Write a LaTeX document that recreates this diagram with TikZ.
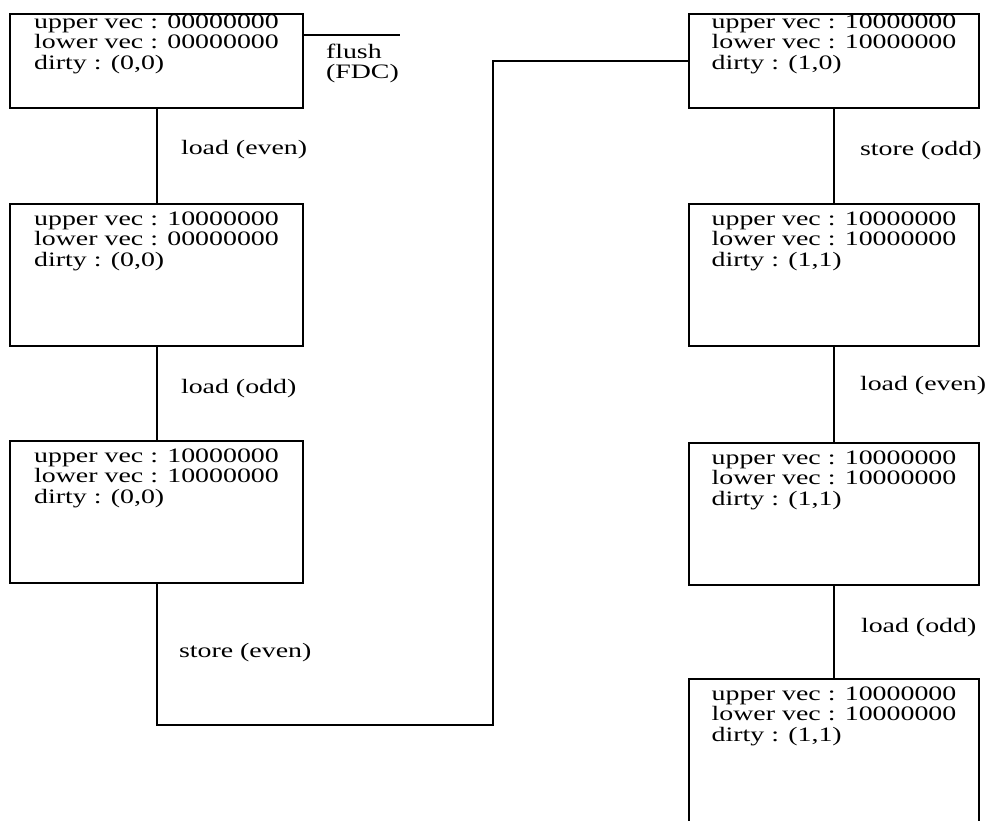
\documentclass[tikz,border=0pt]{standalone}
\usepackage{fontspec}
\setmainfont{Liberation Serif}
\usepackage{graphicx}
\usetikzlibrary{positioning}
\newcommand\wide[1]{\scalebox{1.36}[1]{#1}}
\newcommand\vecs[3]{\wide{\vtop{\baselineskip=20pt\lineskiplimit=-100pt
  \hbox{upper vec : #1}\hbox{lower vec : #2}\vskip1pt\hbox{dirty : #3}}}}
\tikzset {
  every node/.style={font=\fontsize{20.5}{20}\selectfont},
  state/.style={draw, line width=2pt, anchor=north west, inner sep=0pt},
  short/.style={state, minimum width=293pt, text height=14pt, text depth=80pt},
  tall/.style={state, minimum width=293pt, text height=21pt, text depth=121pt},
  lbl/.style={anchor=base west, inner sep=0pt},
}

\begin{document}
\begin{tikzpicture}[x=1pt,y=-1pt,line width=2pt]
  \clip (0,0) rectangle (991,820);
  % left column
  \node[short] (s1) at (9,13) {\vecs{00000000}{00000000}{(0,0)}};
  \node[tall] (s2) at (9,203) {\vecs{10000000}{00000000}{(0,0)}};
  \node[tall] (s3) at (9,440) {\vecs{10000000}{10000000}{(0,0)}};
  % right column
  \node[short, minimum width=290pt] (s4) at (688,13) {\vecs{10000000}{10000000}{(1,0)}};
  \node[tall, minimum width=290pt] (s5) at (688,203) {\vecs{10000000}{10000000}{(1,1)}};
  \node[tall, minimum width=290pt] (s6) at (688,442) {\vecs{10000000}{10000000}{(1,1)}};
  \node[tall, minimum width=290pt, text depth=150pt] (s7) at (688,678) {\vecs{10000000}{10000000}{(1,1)}};

  \coordinate (flushend) at (400,35);
  \coordinate (turn) at (493,725);

  \draw (s1.east |- flushend) -- (flushend);
  \node[lbl] (flush) at (325,58) {\wide{\vtop{\baselineskip=20pt\lineskiplimit=-100pt\hbox{flush}\hbox{(FDC)}}}};

  \draw (s1) -- (s2) node[lbl] (l1) at (180,154) {\wide{load (even)}};
  \draw (s2) -- (s3) node[lbl] (l2) at (180,393) {\wide{load (odd)}};
  \draw (s3.south) |- (turn) |- (s4.west);
  \node[lbl] (l3) at (178,657) {\wide{store (even)}};

  \draw (s4) -- (s5) node[lbl] (r1) at (859,155) {\wide{store (odd)}};
  \draw (s5) -- (s6) node[lbl] (r2) at (859,390) {\wide{load (even)}};
  \draw (s6) -- (s7) node[lbl] (r3) at (860,632) {\wide{load (odd)}};
\end{tikzpicture}
\end{document}
